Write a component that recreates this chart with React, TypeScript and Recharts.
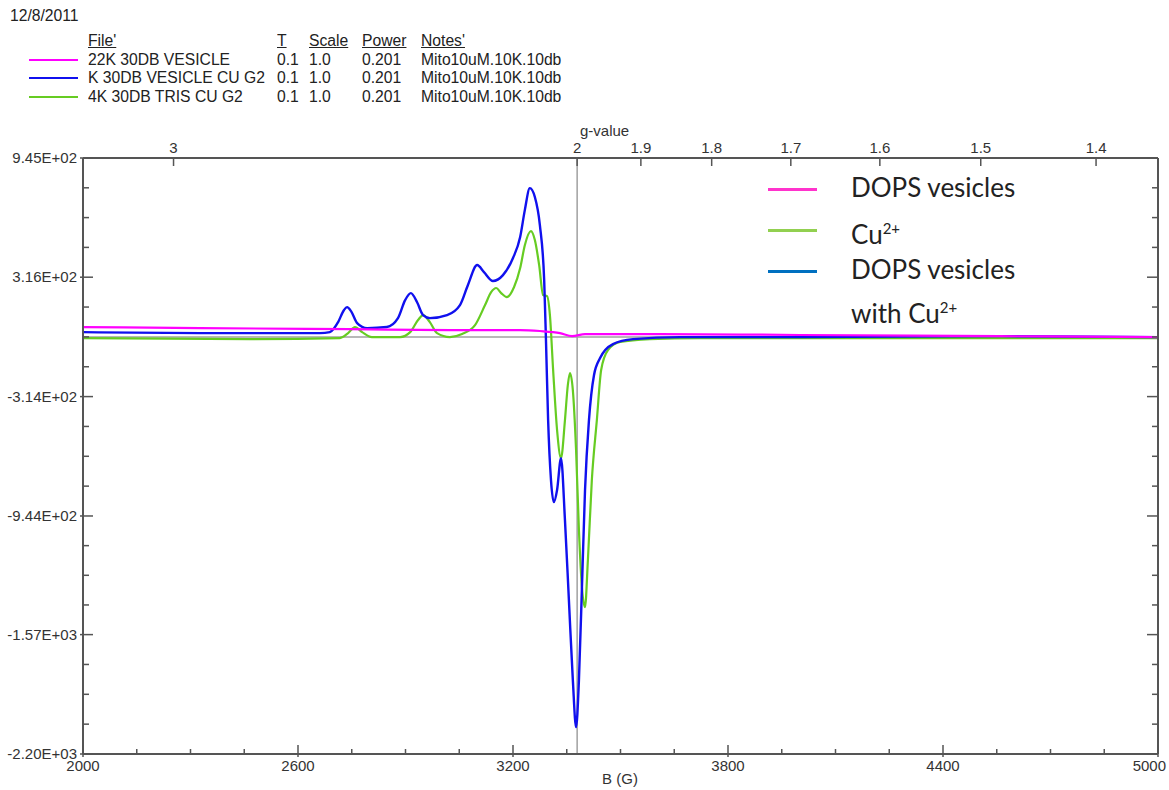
import React from 'react';
import { LineChart, Line, XAxis, YAxis, ReferenceLine, Legend } from 'recharts';

// DOPS vesicles alone
const FIELD_VESICLE = [2000, 2327, 2745, 3024, 3220, 3275, 3331, 3365, 3401, 3582, 4001, 4559, 5000];
const SIGNAL_VESICLE = [53, 47, 42, 37, 37, 32, 21, 5, 16, 16, 11, 5, 0];

// Cu2+ in tris
const FIELD_CU = [
  2000, 2466, 2717, 2740, 2759, 2779, 2806, 2885, 2913, 2935, 2949, 2968, 2988, 3024, 3058, 3094,
  3122, 3139, 3153, 3167, 3183, 3203, 3220, 3233, 3250, 3261, 3273, 3284, 3295, 3303, 3312, 3323,
  3334, 3345, 3353, 3359, 3367, 3376, 3384, 3393, 3401, 3409, 3420, 3434, 3446, 3465, 3499, 3582,
  3722, 5000,
];
const SIGNAL_CU = [
  -5, -11, -5, 21, 53, 26, 0, 0, 26, 90, 116, 79, 21, 0, 16, 63,
  169, 237, 259, 232, 211, 264, 364, 485, 559, 512, 380, 222, 216, 116, -174, -491,
  -639, -438, -253, -190, -280, -596, -1018, -1335, -1425, -1177, -755, -438, -174, -69, -26, -11,
  -5, -5,
];

// DOPS vesicles with Cu2+
const FIELD_VESICLE_CU = [
  2000, 2327, 2661, 2689, 2712, 2728, 2737, 2748, 2765, 2793, 2848, 2879, 2899, 2915, 2932, 2949,
  2968, 3016, 3052, 3074, 3100, 3119, 3144, 3172, 3200, 3220, 3233, 3247, 3261, 3275, 3287, 3292,
  3298, 3306, 3314, 3323, 3334, 3345, 3356, 3367, 3376, 3384, 3393, 3401, 3412, 3426, 3443, 3479,
  3535, 3666, 4001, 4559, 5000,
];
const SIGNAL_VESICLE_CU = [
  26, 21, 21, 26, 79, 142, 158, 137, 74, 47, 53, 100, 195, 232, 185, 116,
  100, 116, 169, 274, 380, 343, 296, 327, 417, 528, 670, 786, 739, 591, 301, -16,
  -438, -755, -871, -807, -639, -966, -1388, -1810, -2058, -1810, -1282, -807, -438, -201, -111, -37,
  -11, 0, 0, 5, 0,
];

const X_TICKS = [2000, 2600, 3200, 3800, 4400, 5000];
const Y_TICKS = [945, 316, -314, -944, -1570, -2200];
const Y_TICK_LABELS = ['9.45E+02', '3.16E+02', '-3.14E+02', '-9.44E+02', '-1.57E+03', '-2.20E+03'];
const G_TICKS = [3, 2, 1.9, 1.8, 1.7, 1.6, 1.5, 1.4];
const FIELD_AT_G2 = 3379;

const FILES = ['22K 30DB VESICLE', 'K 30DB VESICLE CU G2', '4K 30DB TRIS CU G2'];
const FILE_COLORS = ['#ff00ff', '#1010ee', '#66cc22'];

const LEGEND_NAMES = ['DOPS vesicles', 'Cu', 'DOPS vesicles'];
const LEGEND_COLORS = ['#ff33cc', '#92d050', '#0070c0'];

const zip = (xs: number[], ys: number[]) => xs.map((b, i) => ({ b, v: ys[i] }));
const vesicle = zip(FIELD_VESICLE, SIGNAL_VESICLE);
const cu = zip(FIELD_CU, SIGNAL_CU);
const vesicleCu = zip(FIELD_VESICLE_CU, SIGNAL_VESICLE_CU);

const xTicksAll: number[] = [];
for (let b = 2000; b <= 5000; b += 150) xTicksAll.push(b);

const yTicksAll: number[] = [];
Y_TICKS.forEach((t, i) => {
  yTicksAll.push(t);
  const next = Y_TICKS[i + 1];
  if (next !== undefined) {
    for (let k = 1; k < 4; k++) yTicksAll.push(t + ((next - t) * k) / 4);
  }
});

const gTicks = G_TICKS.map((g) => (2 * FIELD_AT_G2) / g);

const AXIS = '#555';
const FONT = '"Liberation Sans", Arial, sans-serif';

const BottomTick = ({ x, y, payload }: any) => {
  const major = X_TICKS.includes(payload.value);
  const last = payload.value === 5000;
  return (
    <g>
      <line x1={x} x2={x} y1={major ? y + 3 : y} y2={major ? y - 9 : y - 5} stroke={AXIS} strokeWidth={1.5} />
      {major && (
        <text
          x={last ? x + 8 : x}
          y={y + 17}
          textAnchor={last ? 'end' : 'middle'}
          fontSize={15}
          fontFamily={FONT}
          fill="#333"
        >
          {payload.value}
        </text>
      )}
    </g>
  );
};

const LeftTick = ({ x, y, payload }: any) => {
  const idx = Y_TICKS.indexOf(payload.value);
  const major = idx >= 0;
  return (
    <g>
      <line x1={major ? x - 3 : x} x2={major ? x + 10 : x + 6} y1={y} y2={y} stroke={AXIS} strokeWidth={1.5} />
      {major && (
        <text x={x - 6} y={y + 5} textAnchor="end" fontSize={15} fontFamily={FONT} fill="#333">
          {Y_TICK_LABELS[idx]}
        </text>
      )}
    </g>
  );
};

const RightTick = ({ x, y, payload }: any) => {
  const major = Y_TICKS.includes(payload.value);
  return <line x1={x} x2={major ? x - 11 : x - 6} y1={y} y2={y} stroke={AXIS} strokeWidth={1.5} />;
};

const TopTick = ({ x, y, payload }: any) => {
  const idx = gTicks.findIndex((t) => Math.abs(t - payload.value) < 0.01);
  return (
    <g>
      <line x1={x} x2={x} y1={y} y2={y + 8} stroke={AXIS} strokeWidth={1.5} />
      <text x={x} y={y - 5} textAnchor="middle" fontSize={15} fontFamily={FONT} fill="#333">
        {idx >= 0 ? G_TICKS[idx] : ''}
      </text>
    </g>
  );
};

const InsetLegend = () => {
  const rowY = [19, 60, 101];
  return (
    <div style={{ position: 'relative', width: 260, height: 160, fontFamily: 'Lato, "Open Sans", sans-serif', color: '#222' }}>
      {LEGEND_NAMES.map((name, i) => (
        <React.Fragment key={i}>
          <div
            style={{ position: 'absolute', left: 8, top: rowY[i] - 1.5, width: 49, height: 3, background: LEGEND_COLORS[i] }}
          />
          <div style={{ position: 'absolute', left: 91, top: rowY[i] - 17, fontSize: 26, lineHeight: '30px', whiteSpace: 'nowrap' }}>
            {name}
            {i === 1 && <sup style={{ fontSize: 15 }}>2+</sup>}
          </div>
        </React.Fragment>
      ))}
      <div style={{ position: 'absolute', left: 91, top: 139 - 17, fontSize: 26, lineHeight: '30px', whiteSpace: 'nowrap' }}>
        with Cu<sup style={{ fontSize: 15 }}>2+</sup>
      </div>
    </div>
  );
};

const headerCell = (left: number, top: number, text: string, underline = false, key?: string) => (
  <div
    key={key}
    style={{
      position: 'absolute',
      left,
      top,
      fontSize: 16,
      lineHeight: '18px',
      whiteSpace: 'nowrap',
      textDecoration: underline ? 'underline' : 'none',
      color: '#222',
      transform: 'scaleX(0.98)',
      transformOrigin: 'left',
    }}
  >
    {text}
  </div>
);

const App: React.FC = () => {
  const rowTops = [51, 69, 88];
  return (
    <div style={{ position: 'absolute', left: 0, top: 0, width: 1169, height: 790, background: '#fff', fontFamily: FONT }}>
      <div style={{ position: 'absolute', left: 0, top: 0 }}>
        <LineChart width={1169} height={790} margin={{ top: 118, right: 0, bottom: 0, left: 0 }}>
          <XAxis
            dataKey="b"
            type="number"
            domain={[2000, 5000]}
            ticks={xTicksAll}
            interval={0}
            height={36}
            tickSize={0}
            tickMargin={0}
            tick={<BottomTick />}
            axisLine={{ stroke: AXIS, strokeWidth: 2 }}
            allowDataOverflow
          />
          <XAxis
            xAxisId="g"
            dataKey="b"
            orientation="top"
            type="number"
            domain={[2000, 5000]}
            ticks={gTicks}
            interval={0}
            height={40}
            tickSize={0}
            tickMargin={0}
            tick={<TopTick />}
            axisLine={{ stroke: AXIS, strokeWidth: 2 }}
            allowDataOverflow
          />
          <YAxis
            dataKey="v"
            type="number"
            domain={[-2200, 945]}
            ticks={yTicksAll}
            interval={0}
            width={83}
            tickSize={0}
            tickMargin={0}
            tick={<LeftTick />}
            axisLine={{ stroke: AXIS, strokeWidth: 2 }}
            allowDataOverflow
          />
          <YAxis
            yAxisId="right"
            orientation="right"
            type="number"
            domain={[-2200, 945]}
            ticks={yTicksAll}
            interval={0}
            width={11}
            tickSize={0}
            tickMargin={0}
            tick={<RightTick />}
            axisLine={{ stroke: AXIS, strokeWidth: 2 }}
            allowDataOverflow
          />
          <ReferenceLine y={0} stroke="#a0a0a0" strokeWidth={1.5} />
          <ReferenceLine x={FIELD_AT_G2} stroke="#a0a0a0" strokeWidth={1.5} />
          <Line data={cu} dataKey="v" type="monotone" stroke={FILE_COLORS[2]} strokeWidth={2.2} dot={false} isAnimationActive={false} />
          <Line data={vesicleCu} dataKey="v" type="monotone" stroke={FILE_COLORS[1]} strokeWidth={2.4} dot={false} isAnimationActive={false} />
          <Line
            xAxisId="g"
            data={vesicle}
            dataKey="v"
            type="monotone"
            stroke={FILE_COLORS[0]}
            strokeWidth={2.2}
            dot={false}
            isAnimationActive={false}
          />
          <Legend
            layout="vertical"
            align="center"
            verticalAlign="middle"
            wrapperStyle={{ left: 760, top: 170, width: 260 }}
            content={() => <InsetLegend />}
          />
        </LineChart>
      </div>

      {headerCell(10, 7, '12/8/2011')}
      {headerCell(88, 32, "File'", true)}
      {headerCell(277, 32, 'T', true)}
      {headerCell(309, 32, 'Scale', true)}
      {headerCell(362, 32, 'Power', true)}
      {headerCell(421, 32, "Notes'", true)}
      {FILES.map((f, i) => (
        <React.Fragment key={f}>
          <div style={{ position: 'absolute', left: 29, top: rowTops[i] + 8, width: 49, height: 2, background: FILE_COLORS[i] }} />
          {headerCell(88, rowTops[i], f)}
          {headerCell(277, rowTops[i], '0.1')}
          {headerCell(309, rowTops[i], '1.0')}
          {headerCell(362, rowTops[i], '0.201')}
          {headerCell(421, rowTops[i], 'Mito10uM.10K.10db')}
        </React.Fragment>
      ))}

      <div style={{ position: 'absolute', left: 580, top: 122, fontSize: 15, color: '#333' }}>g-value</div>
      <div style={{ position: 'absolute', left: 0, width: 1240, top: 770, textAlign: 'center', fontSize: 15, color: '#333' }}>B (G)</div>
    </div>
  );
};

export default App;
